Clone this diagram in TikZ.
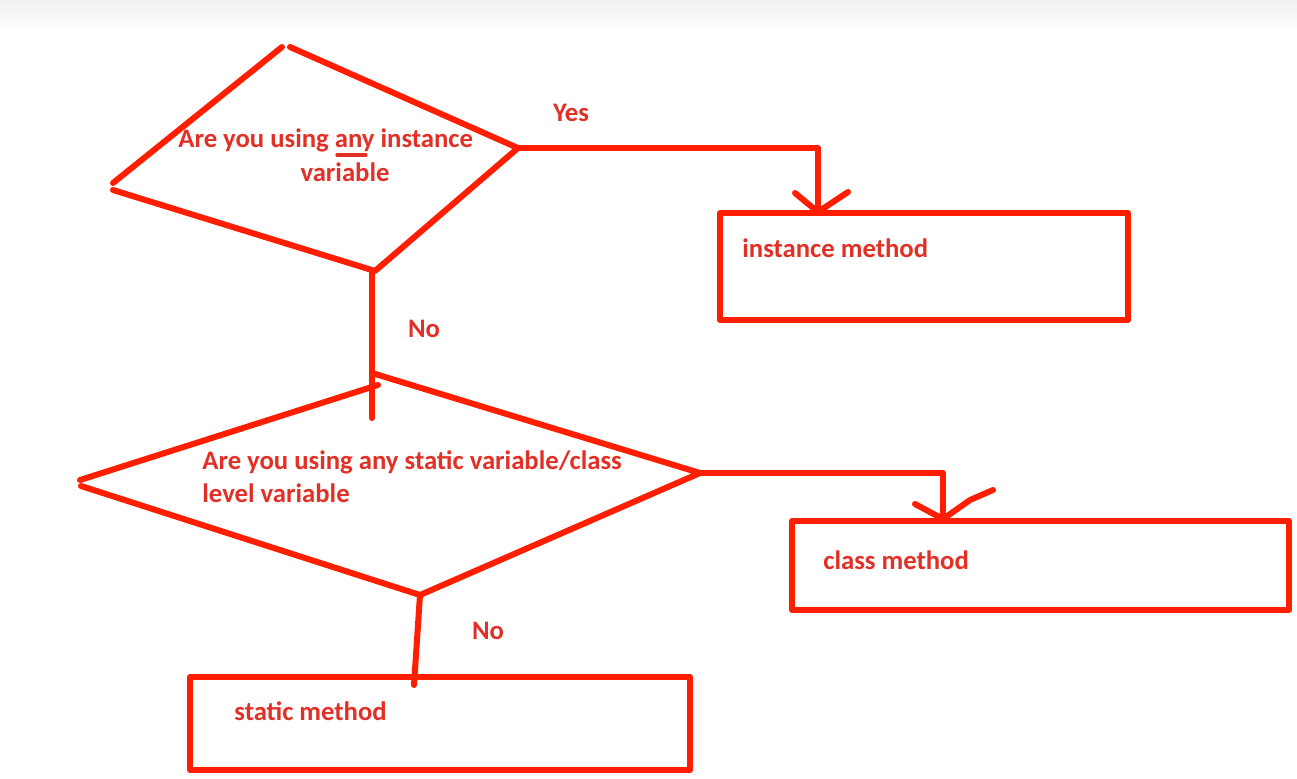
\documentclass[tikz,border=0pt]{standalone}
\usepackage{fontspec}
\setmainfont{Carlito}
\usetikzlibrary{calc}
\definecolor{pen}{RGB}{255,30,0}
\definecolor{ink}{RGB}{226,48,38}
\begin{document}
\begin{tikzpicture}[x=0.5pt,y=-0.5pt, line cap=round, line join=round,
  stroke/.style={draw=pen, line width=3pt},
  box/.style={draw=pen, line width=3pt, inner sep=0pt},
  lbl/.style={text=ink, font=\fontsize{13.35}{16}\selectfont\bfseries, inner sep=0pt}]
\useasboundingbox (0,0) rectangle (1297,778);
\fill[white] (0,0) rectangle (1297,778);
\shade[top color=black!6, bottom color=white] (0,0) rectangle (1297,32);

% diamond 1 vertices
\coordinate (d1tl) at (282,47);
\coordinate (d1tr) at (290,47);
\coordinate (d1r) at (518,148);
\coordinate (d1b) at (375,271);
\coordinate (d1la) at (113,183);
\coordinate (d1lb) at (113,190);
\draw[stroke] (d1la) -- (d1tl);
\draw[stroke] (d1tr) -- (d1r) -- (d1b) -- (d1lb);

% diamond 2 vertices
\coordinate (d2t) at (372,373);
\coordinate (d2tl) at (378,385);
\coordinate (d2r) at (700,473);
\coordinate (d2b) at (420,595);
\coordinate (d2la) at (80,480);
\coordinate (d2lb) at (81,486);
\draw[stroke] (d2la) -- (d2tl);
\draw[stroke] (d2t) -- (d2r) -- (d2b) -- (d2lb);

% boxes
\node[box, minimum width=204pt, minimum height=53.5pt] (inst) at (924,266.5) {};
\node[box, minimum width=248.5pt, minimum height=44.5pt] (cls) at (1040.5,565.5) {};
\node[box, minimum width=250pt, minimum height=46.5pt] (stat) at (440,723.5) {};

% texts
\node[lbl, anchor=west] (q1a) at (178,140) {Are you using any instance};
\node[lbl] (q1b) at (345,172) {variable};
\draw[draw=ink, line width=1.6pt] (337,155) -- (366,155);
\node[lbl, anchor=west] (q2a) at (202,462) {Are you using any static variable/class};
\node[lbl, anchor=west] (q2b) at (202,493) {level variable};
\node[lbl, anchor=west] (t1) at (742,248) {instance method};
\node[lbl, anchor=west] (t2) at (823,560) {class method};
\node[lbl, anchor=west] (t3) at (234,711) {static method};
\node[lbl] (yes) at (571,113) {Yes};
\node[lbl] (no1) at (424,329) {No};
\node[lbl] (no2) at (488,631) {No};

% connectors
\coordinate (a1) at (818,212);
\coordinate (a2) at (943,519);
\coordinate (e1) at (372,418);
\coordinate (e2) at (414,685);
\draw[stroke] (d1r) -| (a1);
\draw[stroke] (795,193) -- (a1) -- (848,192);
\draw[stroke] (d2r) -| (a2);
\draw[stroke] (915,504) -- (a2) -- (970,500) -- (993,490);
\draw[stroke] (d1b) ++(-3,0) -- (e1);
\draw[stroke] (d2b) -- (e2);
\end{tikzpicture}
\end{document}
